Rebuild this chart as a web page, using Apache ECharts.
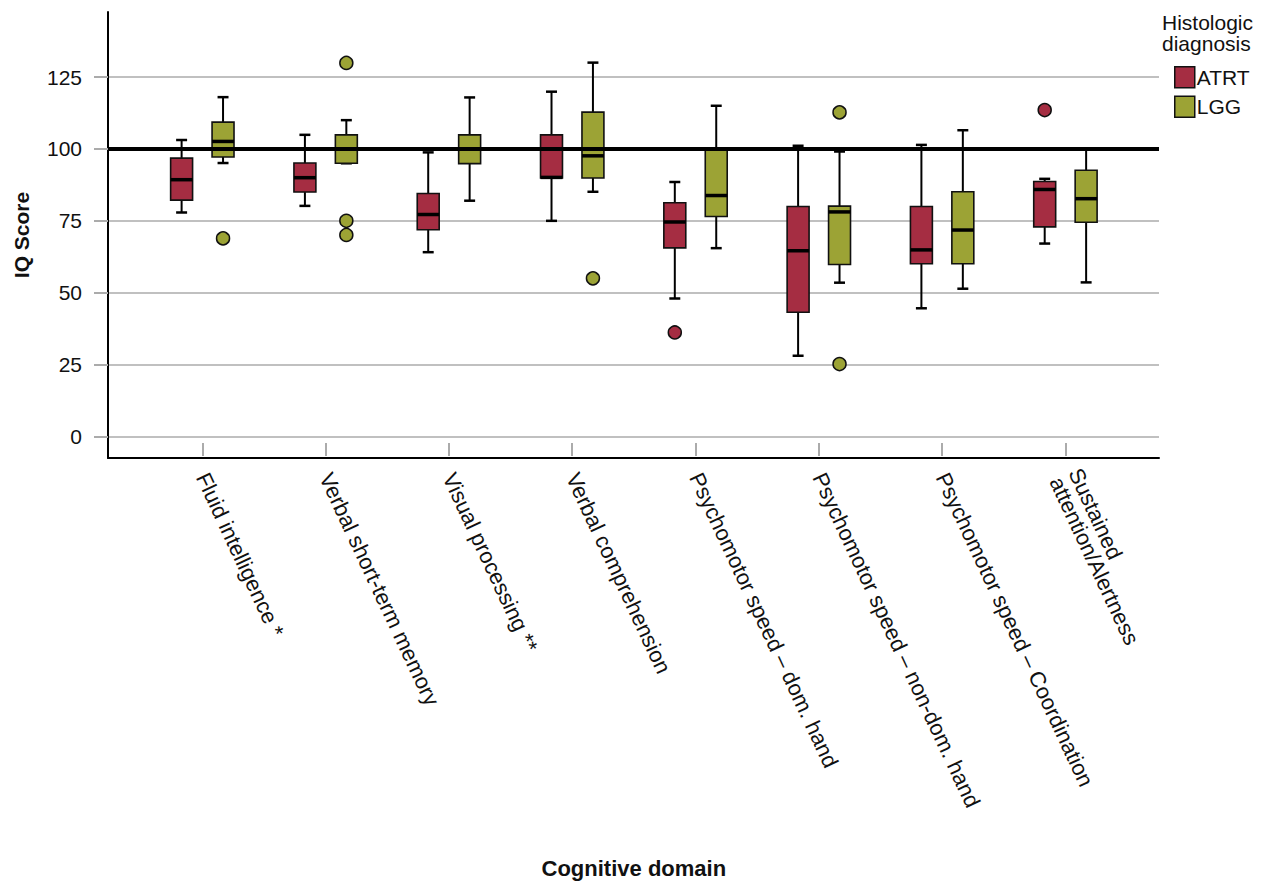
<!DOCTYPE html>
<html>
<head>
<meta charset="utf-8">
<script src="https://cdn.jsdelivr.net/npm/echarts@6/dist/echarts.min.js"></script>
<style>
html,body{margin:0;padding:0;background:#fff;}
#chart{width:1261px;height:884px;}
</style>
</head>
<body>
<div id="chart"></div>
<script>
// ---- data ----
const categories = [
  'Fluid intelligence *',
  'Verbal short-term memory',
  'Visual processing **',
  'Verbal comprehension',
  'Psychomotor speed \u2013 dom. hand',
  'Psychomotor speed \u2013 non-dom. hand',
  'Psychomotor speed \u2013 Coordination',
  'Sustained\nattention/Alertness'
];
const yTicks = [0, 25, 50, 75, 100, 125];
const referenceValue = 100;
// [lower whisker, Q1, median, Q3, upper whisker]
const atrtBoxes = [
  [77.9, 82.2, 89.3, 96.8, 103.1],
  [80.2, 85.0, 90.0, 95.1, 104.9],
  [64.1, 71.9, 77.2, 84.5, 98.8],
  [75.0, 89.9, 90.1, 104.9, 119.9],
  [48.0, 65.6, 74.6, 81.3, 88.5],
  [28.1, 43.2, 64.6, 80.0, 101.1],
  [44.6, 60.1, 64.9, 80.0, 101.4],
  [67.1, 72.9, 85.9, 88.7, 89.6]
];
const lggBoxes = [
  [95.1, 97.2, 102.6, 109.3, 118.0],
  [95.0, 95.0, 100.0, 104.9, 110.0],
  [82.0, 94.9, 100.0, 104.9, 117.9],
  [85.1, 89.9, 97.6, 112.8, 130.0],
  [65.5, 76.5, 83.8, 99.7, 115.0],
  [53.5, 59.8, 78.1, 80.1, 99.1],
  [51.4, 60.1, 71.8, 85.1, 106.5],
  [53.6, 74.5, 82.7, 92.6, 99.9]
];
// [category index, value]
const atrtOutliers = [[4, 36.2], [7, 113.5]];
const lggOutliers = [[0, 68.9], [1, 129.9], [1, 75.0], [1, 70.1], [3, 55.0], [5, 112.7], [5, 25.2]];

// ---- styling constants ----
const ATRT_COLOR = '#A52D42';
const LGG_COLOR = '#9CA335';
const GRID_COLOR = '#ABABAB';
const FONT = '"Liberation Sans", Arial, sans-serif';
const GROUP_OFFSET = 0.168;   // in category units
const BOX_W = 0.178;          // in category units
const X_MIN = -0.765, X_MAX = 7.759;
const Y_MIN = -7.45, Y_MAX = 147.6;

function boxSeries(name, boxes, offset, color) {
  return {
    type: 'custom',
    name: name,
    xAxisIndex: 0, yAxisIndex: 0,
    itemStyle: {color: color},
    z: 3,
    silent: true,
    data: boxes.map((b, i) => [i].concat(b)),
    encode: {x: 0, y: [1, 2, 3, 4, 5]},
    renderItem: function (params, api) {
      const cx = api.value(0) + offset;
      const lo = api.coord([cx, api.value(1)]);
      const q1 = api.coord([cx, api.value(2)]);
      const med = api.coord([cx, api.value(3)]);
      const q3 = api.coord([cx, api.value(4)]);
      const hi = api.coord([cx, api.value(5)]);
      const bw = api.size([BOX_W, 0])[0];
      const capHalf = bw * 0.25;
      const x = lo[0];
      const ln = {stroke: '#000', lineWidth: 2};
      return {
        type: 'group',
        children: [
          {type: 'line', shape: {x1: x, y1: hi[1], x2: x, y2: q3[1]}, style: ln},
          {type: 'line', shape: {x1: x, y1: q1[1], x2: x, y2: lo[1]}, style: ln},
          {type: 'line', shape: {x1: x - capHalf, y1: hi[1], x2: x + capHalf, y2: hi[1]}, style: {stroke: '#000', lineWidth: 2.5}},
          {type: 'line', shape: {x1: x - capHalf, y1: lo[1], x2: x + capHalf, y2: lo[1]}, style: {stroke: '#000', lineWidth: 2.5}},
          {type: 'rect', shape: {x: x - bw / 2, y: q3[1], width: bw, height: q1[1] - q3[1]},
            style: {fill: color, stroke: '#111', lineWidth: 1.6}},
          {type: 'line', shape: {x1: x - bw / 2, y1: med[1], x2: x + bw / 2, y2: med[1]}, style: {stroke: '#000', lineWidth: 3.5}}
        ]
      };
    }
  };
}

function outlierSeries(name, pts, offset, color) {
  return {
    type: 'scatter',
    name: name,
    xAxisIndex: 0, yAxisIndex: 0,
    symbol: 'circle',
    symbolSize: 13,
    z: 4,
    silent: true,
    itemStyle: {color: color, borderColor: '#111', borderWidth: 1.5, opacity: 1},
    data: pts.map(p => [p[0] + offset, p[1]])
  };
}

const chart = echarts.init(document.getElementById('chart'), null, {renderer: 'svg'});

const option = {
  animation: false,
  backgroundColor: '#fff',
  textStyle: {fontFamily: FONT},
  title: {
    text: 'Histologic\ndiagnosis',
    left: 1162, top: 12, padding: 0,
    textStyle: {fontFamily: FONT, fontSize: 21, fontWeight: 'normal', color: '#111', lineHeight: 21}
  },
  legend: {
    data: [{name: 'ATRT', icon: 'rect'}, {name: 'LGG', icon: 'rect'}],
    orient: 'vertical',
    left: 1174, top: 66, padding: 0,
    itemWidth: 20, itemHeight: 21, itemGap: 7,
    selectedMode: false,
    itemStyle: {borderColor: '#111', borderWidth: 1.5},
    textStyle: {fontFamily: FONT, fontSize: 21, color: '#111', padding: [0, 0, 0, -3]}
  },
  grid: [
    {left: 108, right: 102, top: 12, bottom: 426},
    {left: 140.65, right: 134, top: 12, bottom: 426}
  ],
  xAxis: [
    {
      type: 'value', gridIndex: 0, min: X_MIN, max: X_MAX,
      axisLine: {show: true, onZero: false, lineStyle: {color: '#000', width: 2}},
      axisTick: {show: false}, axisLabel: {show: false}, splitLine: {show: false}
    },
    {
      type: 'category', gridIndex: 1, data: categories, boundaryGap: true,
      axisLine: {show: false, onZero: false},
      axisTick: {show: true, alignWithLabel: true, length: 13, lineStyle: {color: GRID_COLOR, width: 2}},
      axisLabel: {
        rotate: -65, margin: 31, interval: 0,
        fontFamily: FONT, fontSize: 22, color: '#111', lineHeight: 21
      },
      name: 'Cognitive domain',
      nameLocation: 'middle',
      nameGap: 414,
      nameTextStyle: {fontFamily: FONT, fontSize: 22, fontWeight: 'bold', color: '#111'}
    }
  ],
  yAxis: [
    {
      type: 'value', gridIndex: 0, min: Y_MIN, max: Y_MAX,
      axisLine: {show: true, onZero: false, lineStyle: {color: '#000', width: 2}},
      axisTick: {show: true, customValues: yTicks, length: 14, lineStyle: {color: GRID_COLOR, width: 2}},
      axisLabel: {show: true, customValues: yTicks, margin: 26, fontFamily: FONT, fontSize: 21, color: '#111'},
      splitLine: {show: true, lineStyle: {color: GRID_COLOR, width: 1.5}},
      name: 'IQ Score',
      nameLocation: 'middle',
      nameGap: 76,
      nameTextStyle: {fontFamily: FONT, fontSize: 21, fontWeight: 'bold', color: '#111'}
    },
    {
      type: 'value', gridIndex: 1, min: Y_MIN, max: Y_MAX, show: false
    }
  ],
  series: [
    boxSeries('ATRT', atrtBoxes, -GROUP_OFFSET, ATRT_COLOR),
    boxSeries('LGG', lggBoxes, GROUP_OFFSET, LGG_COLOR),
    outlierSeries('ATRT', atrtOutliers, -GROUP_OFFSET, ATRT_COLOR),
    outlierSeries('LGG', lggOutliers, GROUP_OFFSET, LGG_COLOR),
    {
      type: 'line', xAxisIndex: 0, yAxisIndex: 0, data: [], silent: true, z: 10,
      markLine: {
        silent: true, symbol: ['none', 'none'], z: 10,
        label: {show: false},
        lineStyle: {color: '#000', width: 4, type: 'solid'},
        data: [{yAxis: referenceValue}]
      }
    }
  ]
};
chart.setOption(option);
</script>
</body>
</html>
